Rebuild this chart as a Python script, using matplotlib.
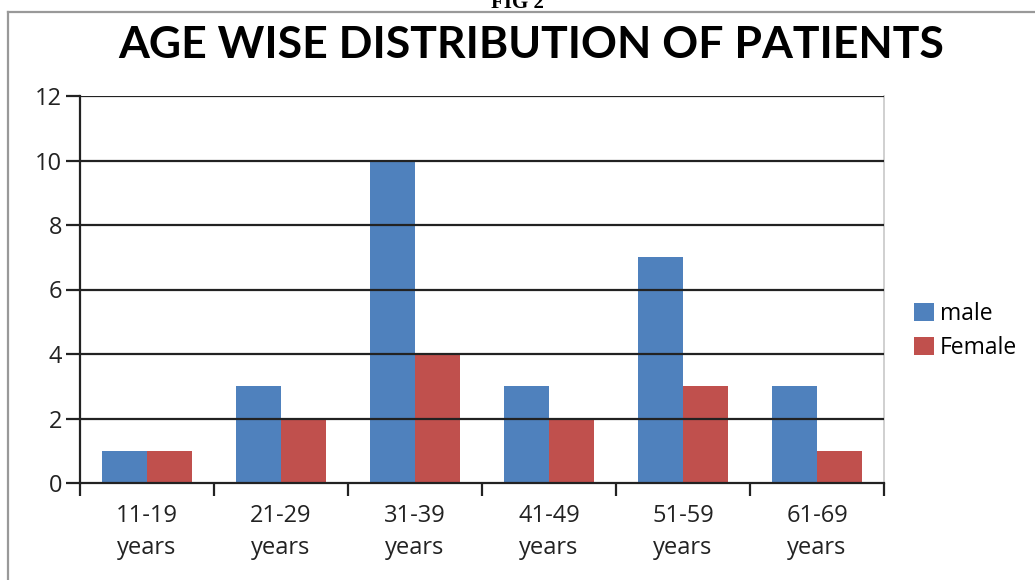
import matplotlib.pyplot as plt
from matplotlib.lines import Line2D
import numpy as np

# patient counts per age group
groups = ["11-19\nyears", "21-29\nyears", "31-39\nyears", "41-49\nyears", "51-59\nyears", "61-69\nyears"]
male = [1, 3, 10, 3, 7, 3]
female = [1, 2, 4, 2, 3, 1]

plt.rcParams['font.family'] = ['Open Sans', 'DejaVu Sans']

fig = plt.figure(figsize=(10.35, 5.8), dpi=100)
ax = fig.add_axes([80 / 1035, 1 - 483 / 580, (884 - 80) / 1035, (483 - 96) / 580])

x = np.arange(len(groups))
w = 0.333
ax.bar(x - w / 2, male, w, color='#4F81BD', label='male', zorder=2)
ax.bar(x + w / 2, female, w, color='#C0504D', label='Female', zorder=2)

ax.set_xlim(-0.5, len(groups) - 0.5)
ax.set_ylim(0, 12)
ax.set_yticks(range(0, 13, 2))
for v in range(2, 13, 2):
    ax.axhline(v, color='#222222', lw=1.6, zorder=3)

ax.set_xticks(np.arange(-0.5, len(groups), 1), minor=False)
ax.set_xticklabels([])
ax.set_xticks(x, minor=True)
ax.set_xticklabels(groups, minor=True, fontsize=17, color='#222222', linespacing=1.45)
ax.tick_params(axis='x', which='minor', length=0, pad=15)
ax.tick_params(axis='x', which='major', length=9, width=1.6, color='#222222', direction='out')
ax.tick_params(axis='y', length=10, width=1.6, color='#222222', direction='out',
               labelsize=17, labelcolor='#222222', pad=3)

for s in ['left', 'bottom']:
    ax.spines[s].set_color('#222222')
    ax.spines[s].set_linewidth(1.6)
ax.spines['top'].set_visible(False)
ax.spines['right'].set_color('#d0d0d0')
ax.spines['right'].set_linewidth(1.4)

leg = fig.legend(loc='center left', bbox_to_anchor=(903 / 1035, 1 - 331 / 580),
                 frameon=False, fontsize=16.5, handlelength=0.85, handleheight=0.85,
                 handletextpad=0.25, labelspacing=0.45, borderpad=0)

fig.text(531 / 1035, 1 - 45 / 580, "AGE WISE DISTRIBUTION OF PATIENTS", ha='center', va='center',
         fontsize=32, fontweight='bold', color='black', family=['Lato', 'DejaVu Sans'])
fig.text(0.5, 1 - 3 / 580, "FIG 2", ha='center', va='center', fontsize=15,
         fontweight='bold', family='Liberation Serif')

# outer frame, top and left edges only
fig.add_artist(Line2D([8 / 1035, 1], [1 - 12 / 580] * 2, color='#999999', lw=1.6))
fig.add_artist(Line2D([8 / 1035] * 2, [0, 1 - 12 / 580], color='#999999', lw=1.6))

fig.savefig('out.png', dpi=100)
